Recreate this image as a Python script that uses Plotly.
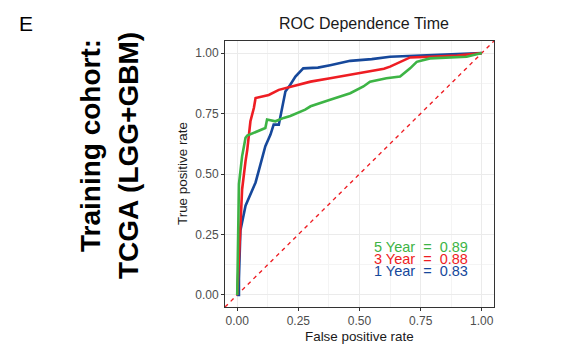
import plotly.graph_objects as go

# ROC curves
blue_fpr = [0, 0.007, 0.007, 0.013, 0.034, 0.055, 0.075, 0.095, 0.115, 0.136, 0.149, 0.17, 0.177, 0.19,
            0.197, 0.217, 0.238, 0.27, 0.33, 0.38, 0.462, 0.55, 0.625, 0.7, 0.788, 0.9, 1.0]
blue_tpr = [0, 0, 0.068, 0.266, 0.369, 0.42, 0.465, 0.54, 0.615, 0.663, 0.704, 0.704, 0.738, 0.807,
            0.841, 0.869, 0.903, 0.937, 0.94, 0.95, 0.968, 0.975, 0.985, 0.988, 0.992, 0.995, 1.0]

red_fpr = [0, 0.005, 0.007, 0.012, 0.02, 0.034, 0.041, 0.054, 0.068, 0.075, 0.1, 0.129, 0.17, 0.224,
           0.278, 0.3, 0.38, 0.462, 0.543, 0.6, 0.625, 0.666, 0.707, 0.79, 0.9, 1.0]
red_tpr = [0, 0.1, 0.163, 0.246, 0.437, 0.553, 0.6, 0.718, 0.773, 0.814, 0.82, 0.827, 0.848, 0.862,
           0.875, 0.882, 0.896, 0.91, 0.923, 0.935, 0.944, 0.964, 0.982, 0.985, 0.99, 1.0]

green_fpr = [0, 0.003, 0.007, 0.007, 0.02, 0.034, 0.041, 0.082, 0.115, 0.122, 0.156, 0.19, 0.217, 0.278,
             0.3, 0.38, 0.462, 0.516, 0.543, 0.61, 0.666, 0.707, 0.734, 0.788, 0.938, 1.0]
green_tpr = [0, 0.225, 0.3, 0.458, 0.574, 0.65, 0.659, 0.677, 0.69, 0.725, 0.718, 0.732, 0.74, 0.766,
             0.78, 0.807, 0.834, 0.862, 0.882, 0.896, 0.903, 0.937, 0.964, 0.978, 0.985, 1.0]

auc_labels = ["5 Year  =  0.89", "3 Year  =  0.88", "1 Year  =  0.83"]
auc_y = [0.2, 0.15, 0.1]
axis_range = [-0.05, 1.05]
tick_vals = [0, 0.25, 0.5, 0.75, 1.0]

BLUE = "#16489B"
RED = "#EE1D23"
GREEN = "#3DB445"
label_colors = [GREEN, RED, BLUE]

fig = go.Figure()
fig.add_trace(go.Scatter(x=axis_range, y=axis_range, mode="lines",
                         line=dict(color=RED, width=1.4, dash="4px,4px"), hoverinfo="skip"))
for xs, ys, c in [(blue_fpr, blue_tpr, BLUE), (red_fpr, red_tpr, RED), (green_fpr, green_tpr, GREEN)]:
    fig.add_trace(go.Scatter(x=xs, y=ys, mode="lines", line=dict(color=c, width=2.6)))

for txt, yy, c in zip(auc_labels, auc_y, label_colors):
    fig.add_annotation(x=0.75, y=yy, xref="x", yref="y", text=txt, showarrow=False,
                       xanchor="center", yanchor="middle",
                       font=dict(family="Liberation Sans, Arial", size=14.5, color=c))

axis_common = dict(range=axis_range, tickvals=tick_vals, tickformat=".2f",
                   showgrid=True, gridcolor="#EBEBEB", gridwidth=1,
                   minor=dict(dtick=0.125, tick0=0, showgrid=True, gridcolor="#F4F4F4", gridwidth=1),
                   showline=True, mirror=True, linecolor="#333333", linewidth=1,
                   ticks="outside", ticklen=3, tickcolor="#333333",
                   tickfont=dict(family="Liberation Sans, Arial", size=12, color="#4D4D4D"),
                   zeroline=False)
fig.update_xaxes(**axis_common)
fig.update_yaxes(**axis_common)

font_main = "Liberation Sans, Arial"
fig.add_annotation(x=0.5, y=1.0, xref="paper", yref="paper", xshift=4, yshift=18, text="ROC Dependence Time",
                   showarrow=False, xanchor="center", yanchor="middle",
                   font=dict(family=font_main, size=16, color="#1A1A1A"))
fig.add_annotation(x=0.5, y=0.0, xref="paper", yref="paper", yshift=-29, text="False positive rate",
                   showarrow=False, xanchor="center", yanchor="middle",
                   font=dict(family=font_main, size=13.4, color="#1A1A1A"))
fig.add_annotation(x=0.0, y=0.5, xref="paper", yref="paper", xshift=-43, text="True positive rate",
                   showarrow=False, textangle=-90, xanchor="center", yanchor="middle",
                   font=dict(family=font_main, size=13.4, color="#1A1A1A"))
fig.add_annotation(x=0.0, y=1.0, xref="paper", yref="paper", xshift=-199, yshift=18, text="E",
                   showarrow=False, xanchor="center", yanchor="middle",
                   font=dict(family=font_main, size=21, color="#000000"))
fig.add_annotation(x=0.0, y=0.5, xref="paper", yref="paper", xshift=-135, yshift=28,
                   text="<b>Training cohort:</b>", showarrow=False, textangle=-90,
                   xanchor="center", yanchor="middle",
                   font=dict(family=font_main, size=28, color="#000000"))
fig.add_annotation(x=0.0, y=0.5, xref="paper", yref="paper", xshift=-97, yshift=18,
                   text="<b>TCGA (LGG+GBM)</b>", showarrow=False, textangle=-90,
                   xanchor="center", yanchor="middle",
                   font=dict(family=font_main, size=28, color="#000000"))

fig.update_layout(width=564, height=349, margin=dict(l=225, r=70, t=41, b=42),
                  plot_bgcolor="white", paper_bgcolor="white", showlegend=False)
fig.write_html("out.html")
